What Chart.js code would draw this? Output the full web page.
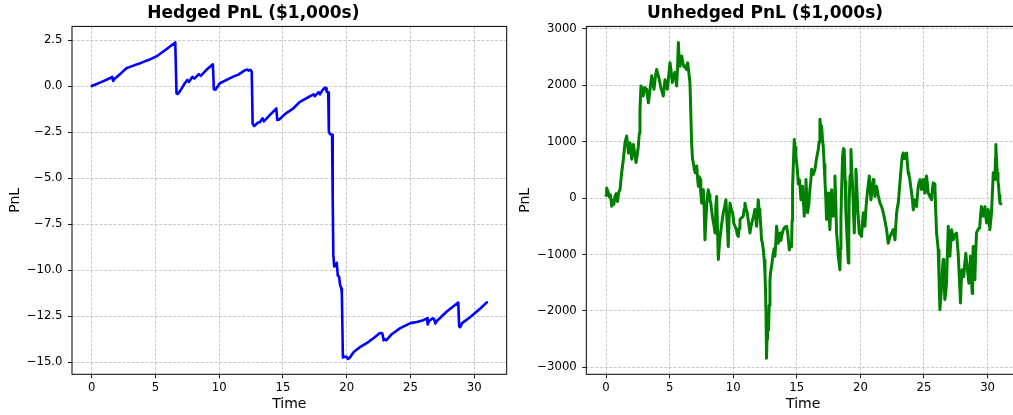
<!DOCTYPE html>
<html>
<head>
<meta charset="utf-8">
<script src="https://cdn.jsdelivr.net/npm/chart.js@4/dist/chart.umd.min.js"></script>
<style>
  html, body { margin: 0; padding: 0; background: #fff; overflow: hidden; width: 1013px; height: 415px; }
  canvas { position: absolute; top: 0; }
  #hedged { left: 0; }
  #unhedged { left: 510px; }
</style>
</head>
<body>
<canvas id="hedged" width="510" height="415"></canvas>
<canvas id="unhedged" width="515" height="415"></canvas>
<script>
// Hedged PnL path ($1,000s) over time
const hedgedTime = [0, 0.7, 1.5, 1.6, 1.68, 1.8, 2.3, 2.72, 3.1, 3.9, 4.6, 5.1, 5.8, 6.55, 6.6, 6.65, 6.75, 6.95, 7.3, 7.5, 7.62, 7.9, 8.05, 8.4, 8.55, 9.0, 9.5, 9.58, 9.7, 10.05, 11.1, 11.5, 12.0, 12.2, 12.3, 12.45, 12.55, 12.62, 12.75, 13.0, 13.2, 13.4, 13.5, 14.0, 14.48, 14.55, 14.7, 15.2, 15.8, 16.3, 17.1, 17.4, 17.5, 17.8, 17.9, 18.1, 18.3, 18.38, 18.42, 18.55, 18.6, 18.7, 18.85, 18.9, 18.95, 19.02, 19.15, 19.22, 19.3, 19.4, 19.48, 19.58, 19.62, 19.7, 19.85, 20.0, 20.1, 20.25, 20.55, 21.0, 21.6, 22.2, 22.6, 22.8, 22.9, 23.0, 23.1, 23.5, 24.2, 25.0, 25.5, 26.0, 26.3, 26.35, 26.45, 26.75, 26.85, 26.95, 27.05, 27.85, 28.75, 28.82, 28.9, 29.05, 29.7, 30.5, 31.0];
const hedgedPnl = [0, 0.2, 0.45, 0.5, 0.28, 0.4, 0.7, 0.97, 1.07, 1.27, 1.46, 1.62, 1.97, 2.37, 2.37, -0.4, -0.43, -0.25, 0.15, 0.33, 0.22, 0.5, 0.4, 0.65, 0.55, 0.88, 1.18, -0.18, -0.2, 0.15, 0.51, 0.62, 0.85, 0.9, 0.84, 0.88, 0.78, -2.05, -2.17, -2.0, -1.95, -1.75, -1.92, -1.55, -1.22, -1.84, -1.82, -1.5, -1.22, -0.87, -0.56, -0.45, -0.55, -0.33, -0.45, -0.22, -0.08, -0.12, -0.3, -0.35, -2.48, -2.62, -2.65, -6.0, -9.2, -9.8, -9.75, -9.6, -10.3, -10.35, -10.8, -11.0, -11.3, -14.75, -14.7, -14.72, -14.82, -14.75, -14.45, -14.2, -13.95, -13.65, -13.42, -13.45, -13.82, -13.75, -13.82, -13.5, -13.15, -12.88, -12.82, -12.72, -12.62, -12.95, -12.78, -12.62, -12.65, -12.9, -12.78, -12.25, -11.76, -13.05, -13.1, -12.88, -12.55, -12.07, -11.75];

// Unhedged PnL path ($1,000s) over time
const unhedgedTime = [0, 0.05, 0.15, 0.25, 0.35, 0.45, 0.55, 0.62, 0.7, 0.8, 0.9, 1.0, 1.1, 1.23, 1.36, 1.49, 1.62, 1.7, 1.76, 1.89, 2.02, 2.15, 2.25, 2.36, 2.45, 2.54, 2.62, 2.67, 2.75, 2.85, 2.93, 3.05, 3.2, 3.33, 3.45, 3.59, 3.68, 3.77, 3.88, 3.98, 4.08, 4.19, 4.32, 4.42, 4.5, 4.64, 4.72, 4.82, 4.92, 5.03, 5.12, 5.21, 5.3, 5.42, 5.5, 5.55, 5.62, 5.69, 5.75, 5.82, 5.9, 5.95, 6.05, 6.12, 6.21, 6.32, 6.42, 6.5, 6.6, 6.68, 6.73, 6.8, 6.86, 6.95, 7.02, 7.13, 7.2, 7.26, 7.33, 7.39, 7.45, 7.52, 7.6, 7.65, 7.72, 7.78, 7.85, 7.91, 8.0, 8.04, 8.1, 8.17, 8.25, 8.3, 8.4, 8.5, 8.57, 8.63, 8.7, 8.75, 8.83, 8.92, 9.01, 9.1, 9.22, 9.33, 9.43, 9.5, 9.56, 9.61, 9.67, 9.75, 9.85, 9.96, 10.05, 10.14, 10.25, 10.32, 10.4, 10.46, 10.53, 10.65, 10.79, 10.86, 10.92, 11.0, 11.1, 11.2, 11.32, 11.4, 11.53, 11.62, 11.71, 11.78, 11.84, 11.9, 11.97, 12.04, 12.1, 12.17, 12.23, 12.3, 12.37, 12.44, 12.5, 12.55, 12.58, 12.61, 12.63, 12.66, 12.7, 12.74, 12.78, 12.83, 12.89, 12.95, 13.02, 13.08, 13.15, 13.22, 13.28, 13.35, 13.41, 13.48, 13.54, 13.61, 13.68, 13.75, 13.81, 13.88, 13.94, 14.05, 14.2, 14.3, 14.41, 14.5, 14.59, 14.63, 14.67, 14.73, 14.8, 14.86, 14.93, 15.0, 15.06, 15.13, 15.2, 15.27, 15.33, 15.4, 15.46, 15.53, 15.59, 15.65, 15.72, 15.78, 15.85, 15.95, 16.03, 16.1, 16.17, 16.3, 16.43, 16.55, 16.69, 16.76, 16.82, 16.88, 16.95, 17.02, 17.08, 17.15, 17.21, 17.28, 17.34, 17.4, 17.47, 17.53, 17.6, 17.67, 17.74, 17.8, 17.87, 17.93, 18.0, 18.07, 18.13, 18.2, 18.26, 18.33, 18.39, 18.43, 18.47, 18.53, 18.6, 18.67, 18.73, 18.8, 18.86, 18.95, 19.05, 19.09, 19.12, 19.19, 19.26, 19.32, 19.39, 19.45, 19.52, 19.58, 19.65, 19.72, 19.78, 19.85, 19.91, 20.0, 20.09, 20.16, 20.23, 20.3, 20.36, 20.42, 20.49, 20.6, 20.7, 20.76, 20.83, 20.92, 21.01, 21.07, 21.14, 21.2, 21.27, 21.4, 21.54, 21.67, 21.8, 21.93, 22.06, 22.12, 22.19, 22.3, 22.45, 22.58, 22.65, 22.72, 22.78, 22.85, 22.92, 22.98, 23.1, 23.24, 23.3, 23.37, 23.44, 23.5, 23.56, 23.63, 23.7, 23.76, 23.82, 23.89, 23.96, 24.03, 24.1, 24.16, 24.22, 24.29, 24.35, 24.42, 24.48, 24.55, 24.62, 24.68, 24.75, 24.81, 24.88, 24.94, 25.0, 25.07, 25.13, 25.2, 25.27, 25.33, 25.4, 25.46, 25.53, 25.6, 25.66, 25.73, 25.8, 25.86, 25.92, 25.99, 26.05, 26.12, 26.18, 26.25, 26.31, 26.38, 26.44, 26.51, 26.57, 26.64, 26.7, 26.77, 26.84, 26.91, 26.97, 27.04, 27.1, 27.17, 27.24, 27.3, 27.43, 27.56, 27.62, 27.69, 27.78, 27.87, 27.93, 28.0, 28.07, 28.13, 28.21, 28.29, 28.34, 28.39, 28.46, 28.53, 28.6, 28.66, 28.72, 28.79, 28.83, 28.87, 28.93, 29.0, 29.06, 29.13, 29.2, 29.26, 29.33, 29.39, 29.45, 29.52, 29.59, 29.66, 29.72, 29.79, 29.85, 29.92, 29.98, 30.05, 30.12, 30.18, 30.25, 30.31, 30.38, 30.45, 30.51, 30.58, 30.62, 30.65, 30.7, 30.76, 30.82, 30.87, 30.92, 30.97, 31.05];
const unhedgedPnl = [50, 180, 120, 20, 60, -145, -40, -110, 30, 80, -60, 100, 150, 450, 680, 980, 1100, 940, 800, 980, 690, 950, 800, 630, 760, 920, 1150, 1570, 1990, 1940, 1810, 1960, 1930, 1690, 1900, 2170, 2050, 1930, 2150, 2280, 2200, 2100, 1950, 1880, 1810, 2100, 2010, 1930, 2150, 2400, 2250, 2050, 2150, 2230, 2080, 1990, 2300, 2760, 2450, 2340, 2460, 2520, 2400, 2330, 2340, 2280, 2400, 2250, 2050, 1400, 980, 700, 630, 500, 450, 570, 350, 210, 380, 330, 100, -90, 120, 150, -200, -740, -400, -150, 80, 150, 60, -30, -100, -210, -380, -500, -620, -150, 30, -400, -1090, -800, -620, -450, -260, -150, -30, -350, -600, -860, -400, -90, -200, -260, -450, -500, -560, -650, -680, -540, -380, -350, -320, -200, -90, -180, -260, -420, -620, -500, -380, -300, -200, -350, -500, -300, -30, -200, -260, -500, -740, -800, -920, -1100, -1330, -1700, -2040, -2500, -2840, -2500, -2160, -2300, -2340, -1900, -1450, -1300, -1210, -1100, -980, -900, -1030, -800, -500, -650, -800, -700, -620, -750, -680, -600, -560, -520, -500, -650, -920, -800, -860, -400, 210, 600, 1040, 900, 740, 600, 450, 250, 330, 150, -30, 100, 210, -100, -320, 0, 330, 50, -260, -100, 150, 300, 510, 420, 510, 700, 860, 1000, 1400, 1250, 1280, 1050, 920, 600, 330, 0, -380, -100, 90, -200, -560, -200, 150, -100, -320, 0, 390, -100, -620, -800, -1030, -1150, -1270, -900, -380, 200, 740, 880, 860, 300, -260, -700, -1150, -600, -30, 400, 860, 500, 210, -200, -620, -100, 510, 200, -150, -400, -620, -650, -680, -450, -260, -380, -500, -250, -30, 200, 390, 200, -30, 150, 330, 180, 30, 120, 210, 50, -90, -150, -260, -400, -560, -680, -800, -700, -620, -560, -650, -740, -500, -260, -150, -90, 250, 630, 750, 800, 700, 740, 780, 800, 600, 450, 400, 330, 200, 90, -50, -210, -100, -30, -100, -150, 50, 210, 280, 330, 250, 150, 250, 330, 200, 90, 250, 390, 250, 90, 60, 30, 0, -30, 150, 270, 250, 210, -200, -620, -750, -920, -1400, -1980, -1800, -1570, -1300, -1090, -1400, -1800, -1700, -1510, -1000, -500, -800, -1030, -800, -560, -650, -740, -650, -620, -800, -980, -1400, -1860, -1500, -1270, -1350, -1390, -1150, -980, -1100, -1210, -1350, -1510, -1300, -1030, -1350, -1690, -1200, -860, -1100, -1450, -1000, -620, -580, -560, -530, -500, -300, -150, -250, -320, -200, -150, -300, -440, -300, -200, -400, -560, -400, -260, 100, 450, 380, 330, 700, 950, 700, 450, 300, 210, 50, -90, -100];

// Tick values for each axis
const timeTicks = [0, 5, 10, 15, 20, 25, 30];
const hedgedTicks = [-15, -12.5, -10, -7.5, -5, -2.5, 0, 2.5];
const unhedgedTicks = [-3000, -2000, -1000, 0, 1000, 2000, 3000];

const FONT = "'DejaVu Sans', 'Liberation Sans', sans-serif";
const minus = s => String(s).replace('-', '\u2212');

// Full rectangular frame around the plotting area
const framePlugin = {
  id: 'frame',
  afterDatasetsDraw(chart) {
    const { ctx, chartArea: a } = chart;
    ctx.save();
    ctx.strokeStyle = '#000';
    ctx.lineWidth = 1;
    ctx.strokeRect(a.left, a.top, a.right - a.left, a.bottom - a.top);
    ctx.restore();
  }
};

function makeChart(id, cfg) {
  const points = cfg.xs.map((x, i) => ({ x, y: cfg.ys[i] }));
  const gridCommon = {
    color: 'rgba(165,165,165,0.75)',
    lineWidth: 0.8,
    borderDash: [3, 1.6],
    drawTicks: true,
    tickLength: 4,
    tickColor: '#000',
    tickWidth: 0.9,
    tickBorderDash: []
  };
  return new Chart(document.getElementById(id), {
    type: 'line',
    data: {
      datasets: [{
        data: points,
        borderColor: cfg.color,
        borderWidth: cfg.lineWidth,
        borderJoinStyle: 'round',
        borderCapStyle: 'round',
        pointRadius: 0,
        tension: 0,
        fill: false
      }]
    },
    options: {
      responsive: false,
      animation: false,
      devicePixelRatio: 1,
      layout: { padding: { left: 0, right: cfg.rightPad, top: 0, bottom: 0 } },
      plugins: {
        legend: { display: false },
        tooltip: { enabled: false },
        title: {
          display: true,
          text: cfg.title,
          color: '#000',
          font: { family: FONT, size: 17, weight: 'bold', lineHeight: 1.2 },
          padding: { top: 3, bottom: 3 }
        }
      },
      scales: {
        x: {
          type: 'linear',
          min: -1.55,
          max: 32.55,
          afterFit: s => { s.height = 40.7; },
          afterBuildTicks: s => { s.ticks = timeTicks.map(v => ({ value: v })); },
          grid: gridCommon,
          border: { display: false, dash: [3, 1.6] },
          ticks: {
            color: '#000',
            padding: 3,
            maxRotation: 0,
            font: { family: FONT, size: 11.7 },
            callback: v => minus(v)
          },
          title: {
            display: true,
            text: 'Time',
            color: '#000',
            font: { family: FONT, size: 14, lineHeight: 1.2 },
            padding: { top: 0, bottom: 2.6 }
          }
        },
        y: {
          type: 'linear',
          min: cfg.yMin,
          max: cfg.yMax,
          afterFit: s => { s.width = cfg.yWidth; },
          afterBuildTicks: s => { s.ticks = cfg.yTicks.map(v => ({ value: v })); },
          grid: gridCommon,
          border: { display: false, dash: [3, 1.6] },
          ticks: {
            color: '#000',
            padding: 5.5,
            font: { family: FONT, size: 11.7 },
            callback: cfg.yFormat
          },
          title: {
            display: true,
            text: 'PnL',
            color: '#000',
            font: { family: FONT, size: 14, lineHeight: 1.2 },
            padding: { top: 7.2, bottom: 0 }
          }
        }
      }
    },
    plugins: [framePlugin]
  });
}

makeChart('hedged', {
  xs: hedgedTime,
  ys: hedgedPnl,
  color: '#0000ff',
  lineWidth: 2.6,
  title: 'Hedged PnL ($1,000s)',
  yMin: -15.66,
  yMax: 3.24,
  yTicks: hedgedTicks,
  yWidth: 72,
  rightPad: 3.3,
  yFormat: v => minus(Number(v).toFixed(1))
});

makeChart('unhedged', {
  xs: unhedgedTime,
  ys: unhedgedPnl,
  color: '#008000',
  lineWidth: 3,
  title: 'Unhedged PnL ($1,000s)',
  yMin: -3125,
  yMax: 3045,
  yTicks: unhedgedTicks,
  yWidth: 76.3,
  rightPad: 5,
  yFormat: v => minus(Math.round(v))
});
</script>
</body>
</html>
